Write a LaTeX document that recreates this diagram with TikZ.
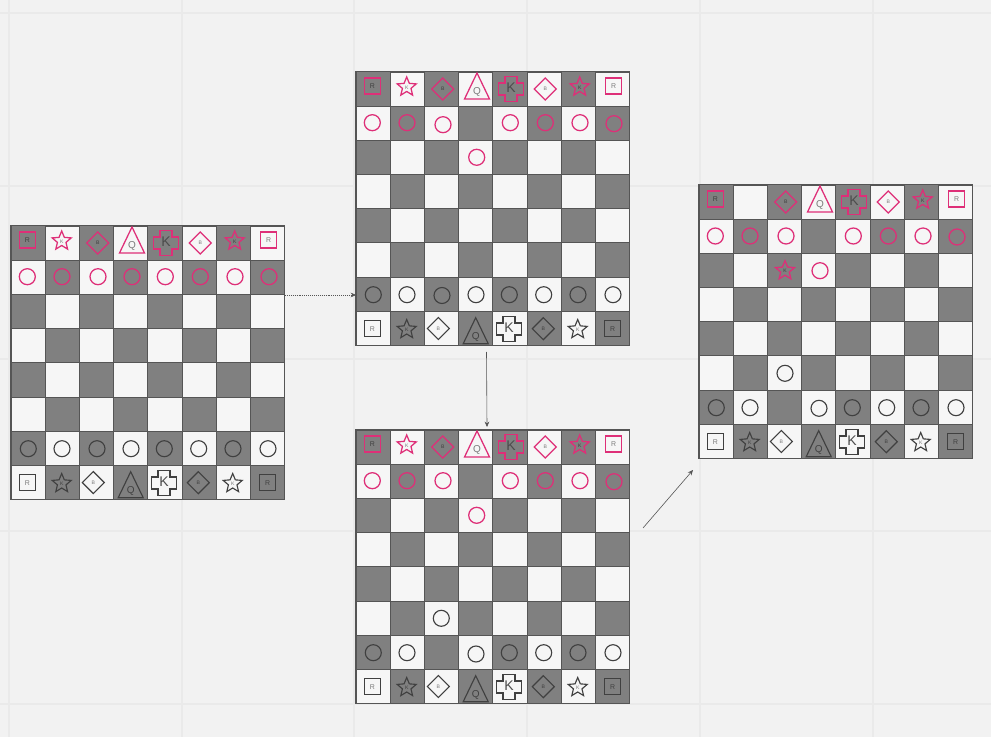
\documentclass[tikz,border=0pt]{standalone}
\usepackage{fontspec}
\setmainfont{Liberation Sans}
\usetikzlibrary{arrows.meta}
\definecolor{bgc}{HTML}{F2F2F2}
\definecolor{gridc}{HTML}{EAEAEA}
\definecolor{cellw}{HTML}{F6F6F6}
\definecolor{celld}{HTML}{808080}
\definecolor{edgec}{HTML}{555555}
\definecolor{pinkc}{HTML}{DE2F78}
\definecolor{blackc}{HTML}{404040}
\tikzset{
  x=.75pt,y=-.75pt,
  boardbox/.style={draw=edgec,fill=cellw,line width=.8pt,minimum width=205.2pt,minimum height=205.2pt,inner sep=0pt,outer sep=0pt},
  darkcell/.style={fill=celld,draw=edgec,line width=.75pt},
  gridline/.style={draw=gridc,line width=.9pt},
  pinkp/.style={draw=pinkc,line width=.95pt,line join=miter},
  blackp/.style={draw=blackc,line width=.85pt,line join=miter},
  ond/.style={text=black!75},
  onw/.style={text=black!52},
  lblR/.style={font=\fontsize{5.2}{6}\selectfont,inner sep=0pt},
  lblB/.style={font=\fontsize{3.8}{4}\selectfont,inner sep=0pt},
  lblS/.style={font=\fontsize{3.8}{4}\selectfont,inner sep=0pt},
  lblQ/.style={font=\fontsize{7.5}{8}\selectfont,inner sep=0pt},
  lblK/.style={font=\fontsize{10.5}{11}\selectfont,inner sep=0pt,text=black!70},
  conn/.style={draw=edgec,line width=.45pt,-{Stealth[length=4pt,width=3.5pt]}},
}
% name, x, y, line style, label style
\newcommand\PcR[5]{\draw[#4] (#2-8,#3-8) rectangle (#2+8,#3+8); \node[lblR,#5] (#1) at (#2,#3) {R};}
\newcommand\PcB[5]{\draw[#4] (#2,#3-11) -- (#2+11,#3) -- (#2,#3+11) -- (#2-11,#3) -- cycle; \node[lblB,#5] (#1) at (#2,#3) {B};}
\newcommand\PcS[5]{\draw[#4,shift={(#2,#3)}] (-90:10) -- (-54:4.5) -- (-18:10) -- (18:4.5) -- (54:10) -- (90:4.5) -- (126:10) -- (162:4.5) -- (198:10) -- (234:4.5) -- cycle; \node[lblS,#5] (#1) at (#2,#3+.5) {K};}
\newcommand\PcQ[5]{\draw[#4] (#2,#3) -- (#2+12.5,#3+26) -- (#2-12.5,#3+26) -- cycle; \node[lblQ,#5] (#1) at (#2,#3+19) {Q};}
\newcommand\PcK[5]{\draw[#4,shift={(#2,#3)}] (-6,-12.7) -- (6,-12.7) -- (6,-6) -- (12.7,-6) -- (12.7,6) -- (6,6) -- (6,12.7) -- (-6,12.7) -- (-6,6) -- (-12.7,6) -- (-12.7,-6) -- (-6,-6) -- cycle; \node[#5,lblK] (#1) at (#2,#3-1) {K};}
% name, x0, y0
\newcommand\BoardBase[3]{%
  \node[boardbox] (#1) at (#2+136.8,#3+136.8) {};
  \begin{scope}[shift={(#2,#3)}]
  \foreach \rw in {0,...,7}{\foreach \cl in {0,...,7}{%
    \pgfmathtruncatemacro\pty{mod(\rw+\cl,2)}%
    \ifnum\pty=0 \draw[darkcell] ({\cl*34.2},{\rw*34.2}) rectangle ({(\cl+1)*34.2},{(\rw+1)*34.2}); \fi
  }}
  \end{scope}}
% name: fixed pieces of the two back rows, all but the top second star
\newcommand\BackRows[1]{%
  \PcR{#1-tr0}{16.3}{14}{pinkp}{ond}
  \PcB{#1-tb0}{86.7}{17}{pinkp}{ond}
  \PcQ{#1-tq}{121}{1}{pinkp}{onw}
  \PcK{#1-tk}{155}{17}{pinkp}{ond}
  \PcB{#1-tb1}{189.3}{17}{pinkp}{onw}
  \PcS{#1-ts1}{223.7}{15}{pinkp}{ond}
  \PcR{#1-tr1}{257.7}{14}{pinkp}{onw}
  \PcR{#1-br0}{16.3}{256.7}{blackp}{onw}
  \PcS{#1-bs0}{50.7}{257.5}{blackp}{ond}
  \PcB{#1-bb0}{82.3}{256.5}{blackp}{onw}
  \PcQ{#1-bq}{119.7}{245.7}{blackp}{ond}
  \PcK{#1-bk}{153}{257}{blackp}{onw}
  \PcB{#1-bb1}{187.3}{256.7}{blackp}{ond}
  \PcS{#1-bs1}{221.7}{257.5}{blackp}{onw}
  \PcR{#1-br1}{256.7}{256.7}{blackp}{ond}}
\newcommand\Pawns[2]{\foreach \px/\py in {#2}{\draw[#1] (\px,\py) circle (8);}}
\begin{document}
\begin{tikzpicture}
\useasboundingbox (0,0) rectangle (991,737);
\fill[bgc] (0,0) rectangle (991,737);
\foreach \gx in {9,182,354,527,700,873}{\draw[gridline] (\gx,0) -- (\gx,737);}
\foreach \gy in {13,186,359,531,704}{\draw[gridline] (0,\gy) -- (991,\gy);}

% Board 1
\BoardBase{b1}{11}{226}
\begin{scope}[shift={(11,226)}]
\BackRows{b1}
\PcS{b1-ts0}{50.7}{15}{pinkp}{onw}
\Pawns{pinkp}{16.3/50.7,51/50.7,87/50.7,121/50.7,154.3/50.7,189.3/50.7,224/50.7,258/50.7}
\Pawns{blackp}{17.3/222.7,51/222.7,86/222.7,120/222.7,153.3/222.7,187.7/222.7,222/222.7,257/222.7}
\end{scope}

% Board 2
\BoardBase{b2}{356}{72}
\begin{scope}[shift={(356,72)}]
\BackRows{b2}
\PcS{b2-ts0}{50.7}{15}{pinkp}{onw}
\Pawns{pinkp}{16.3/50.7,51/50.7,87/52.7,120.7/85.3,154.3/50.7,189.3/50.7,224/50.7,258/51.7}
\Pawns{blackp}{17.3/222.7,51/222.7,86/223.5,120/222.7,153.3/222.7,187.7/222.7,222/222.7,257/222.7}
\end{scope}

% Board 3
\BoardBase{b3}{356}{430}
\begin{scope}[shift={(356,430)}]
\BackRows{b3}
\PcS{b3-ts0}{50.7}{15}{pinkp}{onw}
\Pawns{pinkp}{16.3/50.7,51/50.7,87/50.7,120.7/85.3,154.3/50.7,189.3/50.7,224/50.7,258/51.7}
\Pawns{blackp}{17.3/222.7,51/222.7,85.3/188.3,120/224,153.3/222.7,187.7/222.7,222/222.7,257/222.7}
\end{scope}

% Board 4
\BoardBase{b4}{699}{185}
\begin{scope}[shift={(699,185)}]
\BackRows{b4}
\PcS{b4-ts0}{86}{85.7}{pinkp}{ond}
\Pawns{pinkp}{16.3/51,51/51,87/51,121/85.7,154.3/51,189.3/51,224/51,258/52}
\Pawns{blackp}{17.3/222.7,51/222.7,86/188.3,120/223.3,153.3/222.7,187.7/222.7,222/222.7,257/222.7}
\end{scope}

% Connectors
\coordinate (c1a) at (285,295);
\coordinate (c1b) at (356,295);
\coordinate (c2a) at (486.5,352);
\coordinate (c2b) at (487,427);
\coordinate (c3a) at (643,528);
\coordinate (c3b) at (693,470);
\draw[conn,densely dotted] (c1a) -- (c1b);
\draw[conn] (c2a) -- (c2b);
\draw[conn] (c3a) -- (c3b);
\end{tikzpicture}
\end{document}
